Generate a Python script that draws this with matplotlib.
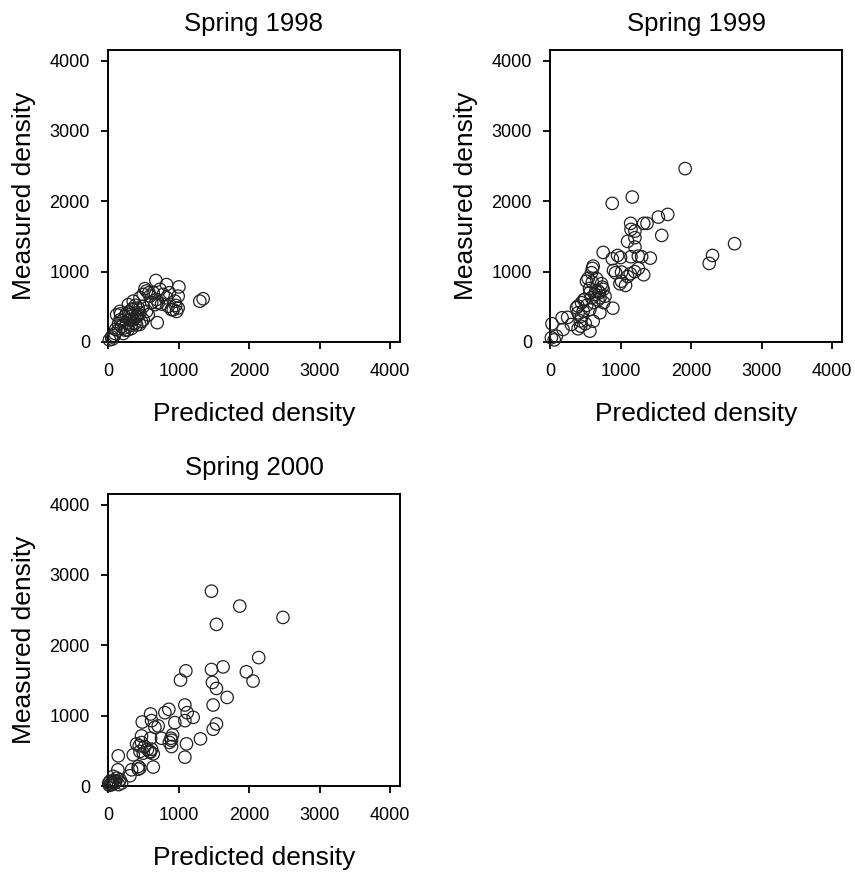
import numpy as np
import matplotlib
matplotlib.use("Agg")
import matplotlib.pyplot as plt

plt.rcParams['font.family'] = ['Liberation Sans', 'DejaVu Sans']

titles = ["Spring 1998", "Spring 1999", "Spring 2000"]

# Spring 1998 (predicted, measured)
pred_1998 = [679, 830, 1005, 995, 948, 960, 1302, 1349, 698, 524, 547, 594, 736, 783, 830,
             712, 665, 854, 925, 995, 972, 642, 689, 453, 500, 358, 170, 241, 311, 358,
             406, 453, 500, 264, 193, 146, 99, 52, 335, 406, 476, 288, 358, 170, 241,
             571, 547, 123, 311, 429, 382, 217, 500, 260, 300, 340, 380, 420, 200, 150,
             230, 330, 280, 450, 20, 60, 90, 110, 180, 390, 440, 760, 870, 620, 580, 900]
meas_1998 = [874, 816, 783, 652, 580, 520, 580, 614, 275, 758, 725, 652, 749, 676, 628,
             556, 531, 507, 459, 483, 435, 700, 604, 628, 676, 580, 435, 362, 386, 314,
             362, 411, 314, 266, 217, 169, 121, 72, 193, 242, 290, 531, 459, 314, 169,
             386, 435, 386, 314, 483, 266, 121, 507, 400, 430, 470, 340, 380, 300, 260,
             200, 240, 170, 250, 30, 40, 90, 180, 400, 520, 390, 540, 700, 560, 700, 460]

# Spring 1999
pred_1999 = [1916, 1166, 882, 1669, 1536, 1375, 1328, 1143, 1148, 1204, 1584, 1204, 1100,
             1204, 2617, 2304, 2257, 754, 958, 882, 1148, 1252, 1299, 1422, 1252, 1328,
             1138, 900, 929, 1014, 991, 1071, 1014, 891, 612, 602, 540, 517, 588, 730,
             754, 683, 636, 565, 707, 588, 494, 446, 398, 375, 470, 398, 565, 707, 446,
             612, 565, 398, 436, 303, 171, 185, 28, 90, 19, 740, 660, 560, 620, 700, 520,
             480, 780, 600, 650, 430, 500, 760, 680, 60, 250, 1100, 1000, 1200]
meas_1999 = [2464, 2060, 1970, 1813, 1775, 1686, 1686, 1686, 1600, 1576, 1515, 1482, 1430,
             1349, 1397, 1230, 1117, 1273, 1230, 1183, 1212, 1220, 1212, 1192, 1045, 956,
             970, 1017, 984, 993, 828, 804, 865, 481, 1078, 1045, 903, 865, 984, 828,
             747, 723, 676, 700, 629, 629, 605, 558, 510, 486, 438, 415, 462, 415, 367,
             296, 154, 188, 225, 249, 344, 178, 259, 83, 60, 780, 900, 760, 560, 700, 520,
             600, 650, 850, 720, 300, 260, 560, 600, 30, 350, 930, 1200, 1000]

# Spring 2000
pred_2000 = [1467, 1868, 2481, 1538, 2137, 1104, 1028, 1467, 1632, 1962, 2057, 1481, 1538,
             1689, 1491, 1090, 1123, 1208, 1090, 1538, 1491, 807, 863, 948, 604, 618,
             486, 712, 665, 759, 892, 915, 901, 1113, 1090, 1311, 476, 604, 406, 443, 476,
             618, 642, 594, 358, 453, 500, 429, 453, 642, 146, 311, 335, 75, 123, 170, 28,
             99, 52, 193, 140, 20, 60, 110, 40, 150, 80, 10, 900, 870, 560, 430, 600, 520]
meas_2000 = [2769, 2557, 2396, 2297, 1825, 1637, 1505, 1656, 1693, 1623, 1491, 1472, 1387,
             1259, 1151, 1151, 1042, 976, 929, 882, 807, 1042, 1090, 901, 1024, 929, 910,
             854, 835, 679, 679, 726, 561, 599, 410, 670, 712, 679, 599, 571, 618, 524,
             458, 491, 443, 491, 467, 278, 255, 269, 429, 146, 231, 137, 113, 90, 66, 42,
             19, 42, 230, 10, 50, 70, 30, 20, 80, 40, 650, 620, 520, 240, 480, 560]

preds = [pred_1998, pred_1999, pred_2000]
meas = [meas_1998, meas_1999, meas_2000]

ticks = [0, 1000, 2000, 3000, 4000]

fig = plt.figure(figsize=(8.55, 8.72), dpi=100)
positions = [[0.1263, 0.6078, 0.3415, 0.3349],
             [0.6433, 0.6078, 0.3415, 0.3349],
             [0.1263, 0.0986, 0.3415, 0.3349]]

for i in range(3):
    ax = fig.add_axes(positions[i])
    ax.scatter(preds[i], meas[i], s=80, facecolors='none', edgecolors='#222222',
               linewidths=0.9, clip_on=False, zorder=3)
    ax.set_xlim(0, 4140)
    ax.set_ylim(0, 4150)
    ax.set_xticks(ticks)
    ax.set_yticks(ticks)
    ax.tick_params(axis='both', direction='out', length=5, width=1.3, labelsize=13)
    ax.tick_params(axis='x', pad=10)
    ax.tick_params(axis='y', pad=8)
    for sp in ax.spines.values():
        sp.set_linewidth(1.4)
    ax.set_title(titles[i], fontsize=18.5, pad=14)
    ax.set_xlabel('Predicted density', fontsize=19, labelpad=16)
    ax.set_ylabel('Measured density', fontsize=19, labelpad=10)

plt.savefig("out.png", dpi=100)
